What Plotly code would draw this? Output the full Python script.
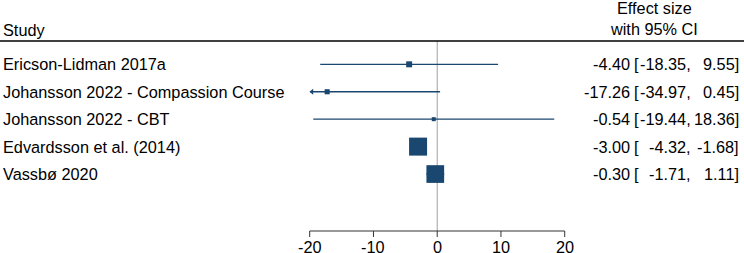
import plotly.graph_objects as go

# ---- data ----
studies = [
    "Ericson-Lidman 2017a",
    "Johansson 2022 - Compassion Course",
    "Johansson 2022 - CBT",
    "Edvardsson et al. (2014)",
    "Vassbø 2020",
]
effect = [-4.40, -17.26, -0.54, -3.00, -0.30]
ci_low = [-18.35, -34.97, -19.44, -4.32, -1.71]
ci_high = [9.55, 0.45, 18.36, -1.68, 1.11]
box_weight = [0.11, 0.08, 0.05, 1.0, 0.97]  # relative box area
tick_vals = [-20, -10, 0, 10, 20]
header_left = "Study"
header_right = ["Effect size", "with 95% CI"]

W, H = 744, 253
MT, MB = 41, 0
PH = H - MT - MB
AXIS_PIX = 231          # pixel row of the x axis line
ROW_PX = 27.43          # pixel spacing between study rows
X_MIN, X_MAX = -20, 20
PAD = 0.6               # extra axis room so edge ticks are not clipped
PX_PER_UNIT = (564.7 - 309.7) / (X_MAX - X_MIN)
DOM = [(309.7 - PAD * PX_PER_UNIT) / W, (564.7 + PAD * PX_PER_UNIT) / W]
NAVY = "#1a476f"
AXC = "#333333"
FONT = "Liberation Sans, Arial, sans-serif"
FS = 16.3

rows = list(range(1, len(studies) + 1))
Y_TOP = 0.15
Y_BOT = Y_TOP + PH / ROW_PX

def py(pix):
    """pixel row -> paper y"""
    return (H - MB - pix) / PH

def ydata(pix):
    """pixel row -> y data value"""
    return Y_TOP + (pix - MT) / ROW_PX

fig = go.Figure()

# zero reference line
fig.add_trace(go.Scatter(x=[0, 0], y=[ydata(MT), ydata(AXIS_PIX)], mode="lines",
                         line=dict(color="#a0a0a0", width=1),
                         hoverinfo="skip", showlegend=False))

# x axis line and ticks
y_ax = ydata(AXIS_PIX)
y_tk = ydata(AXIS_PIX + 6)
axx, axy = [X_MIN, X_MAX, None], [y_ax, y_ax, None]
for v in tick_vals:
    axx += [v, v, None]
    axy += [y_ax, y_tk, None]
fig.add_trace(go.Scatter(x=axx, y=axy, mode="lines",
                         line=dict(color=AXC, width=1),
                         hoverinfo="skip", showlegend=False))

# CI lines (clipped to axis range)
xs, ys = [], []
for r, lo, hi in zip(rows, ci_low, ci_high):
    xs += [max(lo, X_MIN + 0.1), min(hi, X_MAX - 0.1), None]
    ys += [r, r, None]
fig.add_trace(go.Scatter(x=xs, y=ys, mode="lines",
                         line=dict(color=NAVY, width=1.3),
                         hoverinfo="skip", showlegend=False))

# arrows for truncated CIs
ax, ay = [], []
for r, lo in zip(rows, ci_low):
    if lo < X_MIN:
        ax.append(X_MIN + 0.35)
        ay.append(r)
fig.add_trace(go.Scatter(x=ax, y=ay, mode="markers",
                         marker=dict(symbol="triangle-left", size=5, color=NAVY, opacity=1),
                         cliponaxis=False, hoverinfo="skip", showlegend=False))

# effect boxes
sizes = [max(4, 18 * (w / max(box_weight)) ** 0.5) for w in box_weight]
fig.add_trace(go.Scatter(x=effect, y=rows, mode="markers",
                         marker=dict(symbol="square", size=sizes, color=NAVY,
                                     opacity=1, line=dict(width=0)),
                         cliponaxis=False, showlegend=False))

# header separator
fig.add_shape(type="line", xref="paper", yref="paper", x0=0, x1=1, y0=1, y1=1,
              line=dict(color="black", width=1.5))

ann = []
txtfont = dict(family=FONT, size=FS, color="black")

def add(x, y, text, xanchor, xref="paper", yref="paper"):
    ann.append(dict(x=x, y=y, xref=xref, yref=yref, text=text, xanchor=xanchor,
                    yanchor="middle", showarrow=False, font=txtfont, borderpad=0))

for r, s, e, lo, hi in zip(rows, studies, effect, ci_low, ci_high):
    add(2 / W, r, s, "left", yref="y")
    add(631 / W, r, f"{e:.2f}", "right", yref="y")
    add(633 / W, r, "[", "left", yref="y")
    add(692 / W, r, f"{lo:.2f},", "right", yref="y")
    add(740 / W, r, f"{hi:.2f}]", "right", yref="y")

add(2 / W, py(30.5), header_left, "left")
for i, t in enumerate(header_right):
    add(654 / W, py(7.5 + 22 * i), t, "center")

for v in tick_vals:
    add(v, py(247), str(v), "center", xref="x")

fig.update_layout(
    width=W, height=H,
    margin=dict(l=0, r=0, t=MT, b=MB, pad=0, autoexpand=False),
    paper_bgcolor="white", plot_bgcolor="white",
    annotations=ann,
    xaxis=dict(domain=DOM, range=[X_MIN - PAD, X_MAX + PAD],
               visible=False, showgrid=False, zeroline=False),
    yaxis=dict(visible=False, range=[Y_BOT, Y_TOP], showgrid=False, zeroline=False),
)

fig.write_html("out.html")
